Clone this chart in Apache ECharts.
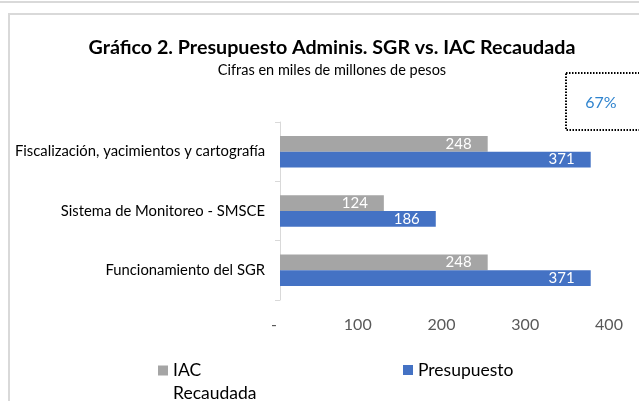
<!DOCTYPE html>
<html>
<head>
<meta charset="utf-8">
<script src="https://cdn.jsdelivr.net/npm/echarts@6/dist/echarts.min.js"></script>
<style>html,body{margin:0;padding:0;background:#fff}#c{width:639px;height:401px}</style>
</head>
<body>
<div id="c"></div>
<script>
var categories = ['Fiscalización, yacimientos y cartografía', 'Sistema de Monitoreo - SMSCE', 'Funcionamiento del SGR'];
var iacRecaudada = [248, 124, 248];
var presupuesto = [371, 186, 371];
var xTicks = [0, 100, 200, 300, 400];

var sum = function (a) { return a.reduce(function (s, v) { return s + v; }, 0); };
var ratioText = Math.round(sum(iacRecaudada) / sum(presupuesto) * 100) + '%';

var FONT = 'Lato, "Open Sans", sans-serif';
var chart = echarts.init(document.getElementById('c'), null, {renderer: 'canvas'});
var labelOpt = {
  show: true, position: 'insideRight', distance: 16, color: '#fff',
  fontFamily: FONT, fontSize: 15
};
chart.setOption({
  animation: false,
  backgroundColor: '#fff',
  title: {
    text: 'Gráfico 2. Presupuesto Adminis. SGR vs. IAC Recaudada',
    subtext: 'Cifras en miles de millones de pesos',
    left: 327, top: 33, textAlign: 'center', itemGap: 5,
    textStyle: {fontFamily: FONT, fontWeight: 'bold', fontSize: 19.7, color: '#000'},
    subtextStyle: {fontFamily: FONT, fontSize: 14.5, color: '#000'}
  },
  grid: {left: 280, top: 122, width: 335, height: 178, containLabel: false},
  xAxis: {
    type: 'value', min: 0, max: 400, interval: 100,
    axisLine: {show: false}, axisTick: {show: false}, splitLine: {show: false},
    axisLabel: {
      margin: 17, color: '#595959', fontFamily: FONT, fontSize: 16, padding: [0, 12, 0, 0],
      formatter: function (v) { return xTicks.indexOf(v) < 0 ? '' : (v === 0 ? '-' : String(v)); }
    }
  },
  yAxis: {
    type: 'category', data: categories, inverse: true,
    axisLine: {show: true, lineStyle: {color: '#D9D9D9', width: 1}},
    axisTick: {show: true, length: 5, lineStyle: {color: '#D9D9D9'}},
    axisLabel: {margin: 15, color: '#000', fontFamily: FONT, fontSize: 14.8}
  },
  legend: [
    {
      data: ['IAC Recaudada'], left: 158, top: 336, itemWidth: 10, itemHeight: 10, itemGap: 0,
      icon: 'rect',
      formatter: function () { return ' \nIAC\nRecaudada'; },
      textStyle: {fontFamily: FONT, fontSize: 17.5, color: '#000', lineHeight: 23}, padding: 0
    },
    {
      data: ['Presupuesto'], left: 403, top: 361, itemWidth: 10, itemHeight: 10,
      icon: 'rect',
      textStyle: {fontFamily: FONT, fontSize: 17.5, color: '#000'}, padding: 0
    }
  ],
  series: [
    {
      name: 'IAC Recaudada', type: 'bar', data: iacRecaudada,
      itemStyle: {color: '#A5A5A5'}, barGap: '0%', barCategoryGap: '47%',
      label: labelOpt
    },
    {
      name: 'Presupuesto', type: 'bar', data: presupuesto,
      itemStyle: {color: '#4472C4'}, barGap: '0%', barCategoryGap: '47%',
      label: labelOpt
    }
  ],
  graphic: [
    {type: 'rect', silent: true, shape: {x: -10, y: -100, width: 700, height: 102},
     style: {fill: 'none', stroke: '#D9D9D9', lineWidth: 2}},
    {type: 'rect', silent: true, shape: {x: 9, y: 14, width: 700, height: 500},
     style: {fill: 'none', stroke: '#D9D9D9', lineWidth: 2}},
    {type: 'rect', silent: true, shape: {x: 566, y: 73, width: 100, height: 57},
     style: {fill: 'none', stroke: '#000', lineWidth: 2, lineDash: [1.5, 1.5]}},
    {type: 'text', silent: true, x: 601, y: 103,
     style: {text: ratioText, fill: '#2E83CE', font: '16px ' + FONT, align: 'center', verticalAlign: 'middle'}}
  ]
});
</script>
</body>
</html>
